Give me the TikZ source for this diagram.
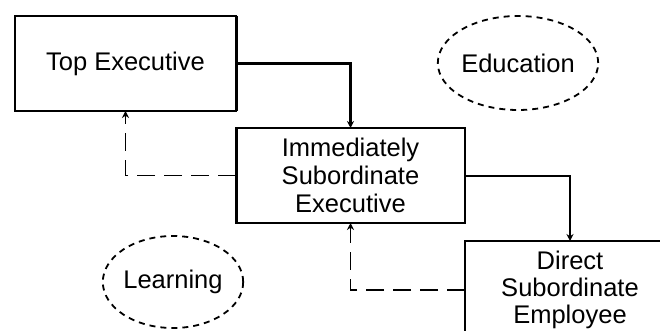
\documentclass[tikz,border=0pt]{standalone}
\usepackage{fontspec}
\setmainfont{Liberation Sans}
\usetikzlibrary{shapes.geometric,arrows.meta}
\begin{document}
\begin{tikzpicture}[x=1pt,y=-1pt,
		box/.style={draw,line width=1.5pt,inner sep=0pt,outer sep=0pt,align=center,font=\fontsize{25.5}{28}\selectfont},
		cloud/.style={draw,ellipse,line width=1.8pt,dash pattern=on 6pt off 5pt,inner sep=0pt,font=\fontsize{25.5}{28}\selectfont},
		link/.style={line width=2pt,-{Stealth[length=7pt,width=7pt]}},
		back/.style={link,line width=1.5pt,dash pattern=on 18pt off 9pt}]
			\useasboundingbox (0,0) rectangle (660,331);
			\clip (0,0) rectangle (660,331);
			\node[box,minimum width=221pt,minimum height=95pt] (top) at (125.5,63.5) {Top Executive};
			\node[box,minimum width=229pt,minimum height=95pt] (imm) at (350.5,175.5) {Immediately\\Subordinate\\Executive};
			\node[box,minimum width=210pt,minimum height=98pt,font=\fontsize{25.5}{27}\selectfont] (dir) at (570,290) {Direct\\Subordinate\\Employee};
			\node[cloud,minimum width=124pt,minimum height=94pt] (edu) at (518,63) {Education};
			\node[cloud,minimum width=126pt,minimum height=92pt] (learn) at (173,282) {Learning};
			\draw[line width=3pt] (top.north east) -- (top.south east);
			\draw[line width=2.5pt] (top.south east) -- (top.south west);
			\draw[line width=3pt] (imm.north west) -- (imm.south west);
			\draw[link,line width=3pt] (top.east) -| (imm.north);
			\draw[link] (imm.east) -| (dir.north);
			\draw[back] (imm.west) -| (top.south);
			\draw[back] (dir.west) -| (imm.south);
		\end{tikzpicture}
\end{document}
